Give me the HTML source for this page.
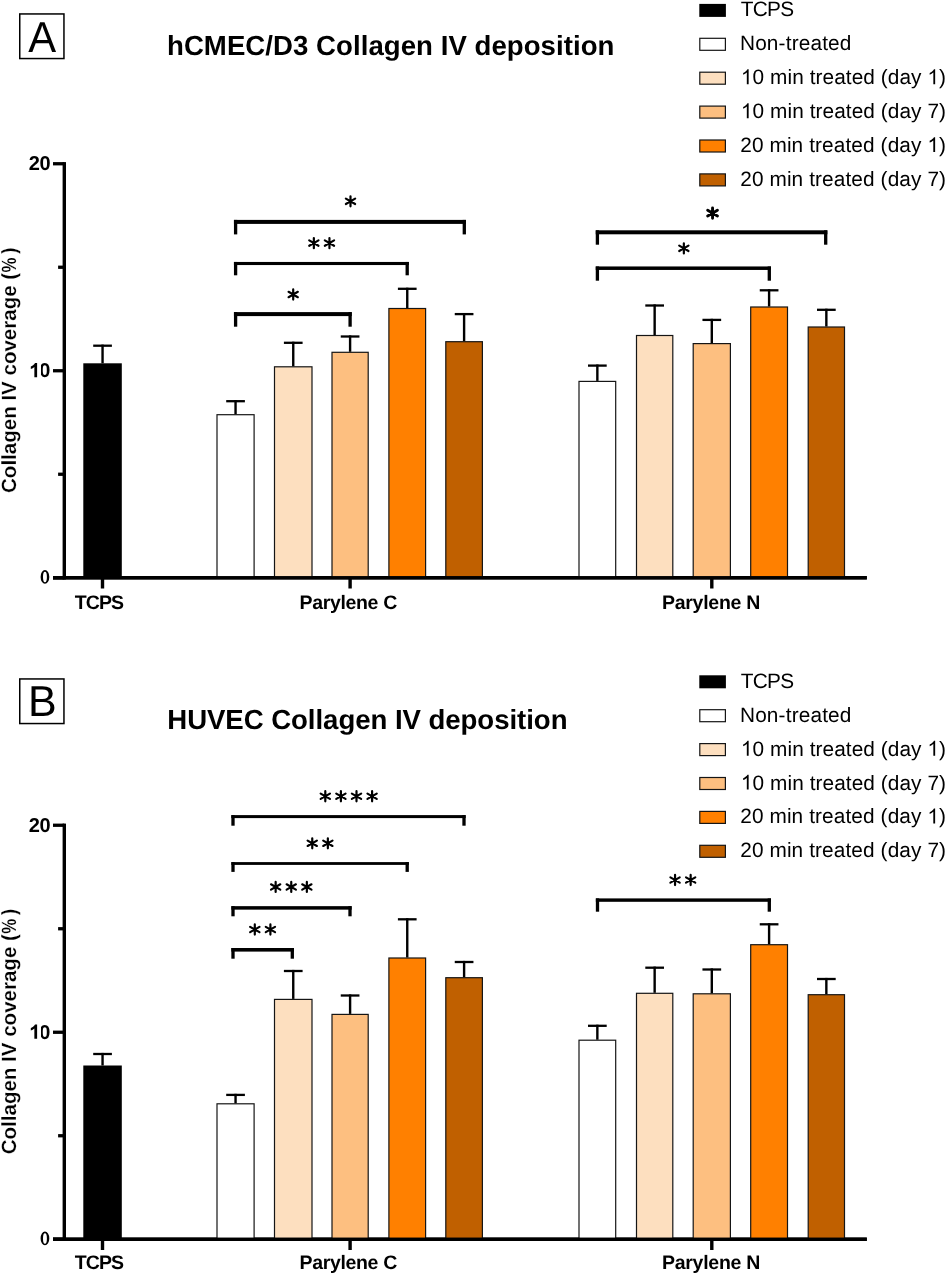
<!DOCTYPE html>
<html><head><meta charset="utf-8"><style>
html,body{margin:0;padding:0;background:#fff;}
svg{display:block;font-family:"Liberation Sans",sans-serif;will-change:transform;text-rendering:geometricPrecision;}
</style></head><body>
<svg width="947" height="1276" viewBox="0 0 947 1276">
<rect width="947" height="1276" fill="#fff"/>
<rect x="19.75" y="13.95" width="44.2" height="44.60" fill="none" stroke="#000" stroke-width="1.5"/>
<text transform="translate(28.16,51.70) scale(0.9735,1.0102)" x="0" y="0" font-family="Liberation Sans" font-weight="normal" font-size="43" text-rendering="geometricPrecision">A</text>
<text x="167.00" y="55.10" font-family="Liberation Sans" font-weight="bold" font-size="27.6" textLength="447.42" lengthAdjust="spacing" >hCMEC/D3 Collagen IV deposition</text>
<rect x="699.30" y="3.90" width="26.60" height="13.00" fill="#000" />
<text x="740.70" y="16.45" font-family="Liberation Sans" font-weight="normal" font-size="20.8" textLength="53.37" lengthAdjust="spacing" >TCPS</text>
<rect x="699.80" y="38.30" width="25.60" height="12.00" fill="#FFFFFF" stroke="#151515" stroke-width="1.2"/>
<text x="739.95" y="50.35" font-family="Liberation Sans" font-weight="normal" font-size="20.8" textLength="111.48" lengthAdjust="spacing" >Non-treated</text>
<rect x="699.80" y="72.20" width="25.60" height="12.00" fill="#FDDFBF" stroke="#151515" stroke-width="1.2"/>
<text x="740.90" y="84.25" font-family="Liberation Sans" font-weight="normal" font-size="20.8" textLength="205.10" lengthAdjust="spacing" class="has1">10 min treated (day 1)</text>
<rect x="699.80" y="106.10" width="25.60" height="12.00" fill="#FDBF80" stroke="#151515" stroke-width="1.2"/>
<text x="740.90" y="118.15" font-family="Liberation Sans" font-weight="normal" font-size="20.8" textLength="205.10" lengthAdjust="spacing" class="has1">10 min treated (day 7)</text>
<rect x="699.80" y="140.00" width="25.60" height="12.00" fill="#FF8000" stroke="#151515" stroke-width="1.2"/>
<text x="740.20" y="152.05" font-family="Liberation Sans" font-weight="normal" font-size="20.8" textLength="205.80" lengthAdjust="spacing" class="has1">20 min treated (day 1)</text>
<rect x="699.80" y="173.90" width="25.60" height="12.00" fill="#C06000" stroke="#151515" stroke-width="1.2"/>
<text x="740.20" y="185.95" font-family="Liberation Sans" font-weight="normal" font-size="20.8" textLength="205.80" lengthAdjust="spacing" >20 min treated (day 7)</text>
<rect x="62.60" y="162.10" width="3.40" height="417.35" fill="#000" />
<rect x="53.00" y="576.10" width="11.30" height="3.30" fill="#000" />
<rect x="53.00" y="369.10" width="11.30" height="3.30" fill="#000" />
<rect x="53.00" y="162.10" width="11.30" height="3.30" fill="#000" />
<rect x="58.10" y="472.60" width="6.20" height="3.30" fill="#000" />
<rect x="58.10" y="265.60" width="6.20" height="3.30" fill="#000" />
<rect x="53.00" y="576.05" width="813.80" height="3.40" fill="#000" />
<rect x="100.80" y="577.75" width="3.40" height="10.75" fill="#000" />
<rect x="348.40" y="577.75" width="3.40" height="10.75" fill="#000" />
<rect x="710.10" y="577.75" width="3.40" height="10.75" fill="#000" />
<text x="28.85" y="170.10" font-family="Liberation Sans" font-weight="bold" font-size="20" textLength="21.70" lengthAdjust="spacing" >20</text>
<text x="29.15" y="377.30" font-family="Liberation Sans" font-weight="bold" font-size="20" textLength="21.30" lengthAdjust="spacing" class="has1">10</text>
<path d="M40.60,576.95a4.35,6.85 0 1,0 8.70,0a4.35,6.85 0 1,0 -8.70,0ZM43.00,576.95a1.95,5.3 0 1,0 3.90,0a1.95,5.3 0 1,0 -3.90,0Z" fill="#000" fill-rule="evenodd"/>
<text x="74.65" y="608.60" font-family="Liberation Sans" font-weight="bold" font-size="19.5" textLength="49.42" lengthAdjust="spacing" >TCPS</text>
<text x="299.55" y="608.60" font-family="Liberation Sans" font-weight="bold" font-size="19.5" textLength="97.71" lengthAdjust="spacing" >Parylene C</text>
<text x="661.95" y="608.60" font-family="Liberation Sans" font-weight="bold" font-size="19.5" textLength="98.46" lengthAdjust="spacing" >Parylene N</text>
<text transform="translate(16.35,492.20) rotate(-90)" x="-0.75" y="0" font-family="Liberation Sans" font-weight="bold" font-size="20.6" textLength="220.09" lengthAdjust="spacingAndGlyphs" stroke="#fff" stroke-width="0.2">Collagen IV coverage (</text>
<text transform="translate(16.35,492.20) rotate(-90) translate(219.69,0) scale(0.8174,1)" x="0" y="0" font-family="Liberation Sans" font-weight="bold" font-size="20.6" stroke="#fff" stroke-width="0.2">%</text>
<text transform="translate(16.35,492.20) rotate(-90) translate(238.55,0) scale(0.8957,1)" x="0" y="0" font-family="Liberation Sans" font-weight="bold" font-size="20.6" stroke="#fff" stroke-width="0.2">)</text>
<rect x="83.30" y="363.30" width="38.50" height="214.45" fill="#000" />
<line x1="102.55" y1="363.30" x2="102.55" y2="344.60" stroke="#000" stroke-width="2.4" stroke-linecap="butt"/>
<line x1="93.20" y1="345.70" x2="111.90" y2="345.70" stroke="#000" stroke-width="2.3" stroke-linecap="butt"/>
<rect x="217.00" y="414.70" width="37.10" height="163.05" fill="#FFFFFF" stroke="#151515" stroke-width="1.2"/>
<line x1="235.55" y1="414.20" x2="235.55" y2="400.10" stroke="#000" stroke-width="2.4" stroke-linecap="butt"/>
<line x1="226.20" y1="401.20" x2="244.90" y2="401.20" stroke="#000" stroke-width="2.3" stroke-linecap="butt"/>
<rect x="274.50" y="366.80" width="37.50" height="210.95" fill="#FDDFBF" stroke="#151515" stroke-width="1.2"/>
<line x1="293.25" y1="366.30" x2="293.25" y2="341.70" stroke="#000" stroke-width="2.4" stroke-linecap="butt"/>
<line x1="283.90" y1="342.80" x2="302.60" y2="342.80" stroke="#000" stroke-width="2.3" stroke-linecap="butt"/>
<rect x="332.00" y="352.30" width="36.20" height="225.45" fill="#FDBF80" stroke="#151515" stroke-width="1.2"/>
<line x1="350.10" y1="351.80" x2="350.10" y2="335.40" stroke="#000" stroke-width="2.4" stroke-linecap="butt"/>
<line x1="340.75" y1="336.50" x2="359.45" y2="336.50" stroke="#000" stroke-width="2.3" stroke-linecap="butt"/>
<rect x="388.90" y="308.50" width="36.70" height="269.25" fill="#FF8000" stroke="#151515" stroke-width="1.2"/>
<line x1="407.25" y1="308.00" x2="407.25" y2="287.70" stroke="#000" stroke-width="2.4" stroke-linecap="butt"/>
<line x1="397.90" y1="288.80" x2="416.60" y2="288.80" stroke="#000" stroke-width="2.3" stroke-linecap="butt"/>
<rect x="445.80" y="341.70" width="36.60" height="236.05" fill="#C06000" stroke="#151515" stroke-width="1.2"/>
<line x1="464.10" y1="341.20" x2="464.10" y2="313.00" stroke="#000" stroke-width="2.4" stroke-linecap="butt"/>
<line x1="454.75" y1="314.10" x2="473.45" y2="314.10" stroke="#000" stroke-width="2.3" stroke-linecap="butt"/>
<rect x="579.00" y="381.40" width="36.70" height="196.35" fill="#FFFFFF" stroke="#151515" stroke-width="1.2"/>
<line x1="597.35" y1="380.90" x2="597.35" y2="364.50" stroke="#000" stroke-width="2.4" stroke-linecap="butt"/>
<line x1="588.00" y1="365.60" x2="606.70" y2="365.60" stroke="#000" stroke-width="2.3" stroke-linecap="butt"/>
<rect x="636.50" y="335.50" width="36.30" height="242.25" fill="#FDDFBF" stroke="#151515" stroke-width="1.2"/>
<line x1="654.65" y1="335.00" x2="654.65" y2="304.40" stroke="#000" stroke-width="2.4" stroke-linecap="butt"/>
<line x1="645.30" y1="305.50" x2="664.00" y2="305.50" stroke="#000" stroke-width="2.3" stroke-linecap="butt"/>
<rect x="693.20" y="343.60" width="37.20" height="234.15" fill="#FDBF80" stroke="#151515" stroke-width="1.2"/>
<line x1="711.80" y1="343.10" x2="711.80" y2="318.80" stroke="#000" stroke-width="2.4" stroke-linecap="butt"/>
<line x1="702.45" y1="319.90" x2="721.15" y2="319.90" stroke="#000" stroke-width="2.3" stroke-linecap="butt"/>
<rect x="750.70" y="307.00" width="36.80" height="270.75" fill="#FF8000" stroke="#151515" stroke-width="1.2"/>
<line x1="769.10" y1="306.50" x2="769.10" y2="289.20" stroke="#000" stroke-width="2.4" stroke-linecap="butt"/>
<line x1="759.75" y1="290.30" x2="778.45" y2="290.30" stroke="#000" stroke-width="2.3" stroke-linecap="butt"/>
<rect x="808.20" y="327.00" width="36.30" height="250.75" fill="#C06000" stroke="#151515" stroke-width="1.2"/>
<line x1="826.35" y1="326.50" x2="826.35" y2="308.70" stroke="#000" stroke-width="2.4" stroke-linecap="butt"/>
<line x1="817.00" y1="309.80" x2="835.70" y2="309.80" stroke="#000" stroke-width="2.3" stroke-linecap="butt"/>
<rect x="53.00" y="576.05" width="813.80" height="3.40" fill="#000" />
<rect x="233.95" y="219.90" width="232.00" height="4.00" fill="#000" />
<rect x="233.95" y="219.90" width="3.30" height="14.50" fill="#000" />
<rect x="462.65" y="219.90" width="3.30" height="14.50" fill="#000" />
<path d="M350.50,196.25V206.35M345.87,198.62L355.13,203.98M345.87,203.98L355.13,198.62" stroke="#000" stroke-width="2.2" stroke-linecap="round" fill="none"/>
<circle cx="350.50" cy="201.30" r="1.9" fill="#000"/>
<rect x="233.95" y="261.95" width="174.90" height="3.10" fill="#000" />
<rect x="233.95" y="261.95" width="3.30" height="13.35" fill="#000" />
<rect x="405.55" y="261.95" width="3.30" height="13.35" fill="#000" />
<path d="M313.85,238.05V248.15M309.22,240.42L318.48,245.78M309.22,245.78L318.48,240.42" stroke="#000" stroke-width="2.2" stroke-linecap="round" fill="none"/>
<circle cx="313.85" cy="243.10" r="1.9" fill="#000"/>
<path d="M329.45,238.05V248.15M324.82,240.42L334.08,245.78M324.82,245.78L334.08,240.42" stroke="#000" stroke-width="2.2" stroke-linecap="round" fill="none"/>
<circle cx="329.45" cy="243.10" r="1.9" fill="#000"/>
<rect x="233.95" y="312.10" width="117.80" height="4.00" fill="#000" />
<rect x="233.95" y="312.10" width="3.30" height="14.60" fill="#000" />
<rect x="348.45" y="312.10" width="3.30" height="14.60" fill="#000" />
<path d="M293.20,289.45V299.55M288.57,291.82L297.83,297.18M288.57,297.18L297.83,291.82" stroke="#000" stroke-width="2.2" stroke-linecap="round" fill="none"/>
<circle cx="293.20" cy="294.50" r="1.9" fill="#000"/>
<rect x="595.75" y="230.30" width="231.60" height="4.00" fill="#000" />
<rect x="595.75" y="230.30" width="3.30" height="14.40" fill="#000" />
<rect x="824.05" y="230.30" width="3.30" height="14.40" fill="#000" />
<path d="M712.55,208.05V218.25M707.66,210.33L717.44,215.97M707.66,215.97L717.44,210.33" stroke="#000" stroke-width="2.9" stroke-linecap="round" fill="none"/>
<circle cx="712.55" cy="213.15" r="2.4" fill="#000"/>
<rect x="595.75" y="266.45" width="175.20" height="3.50" fill="#000" />
<rect x="595.75" y="266.45" width="3.30" height="14.25" fill="#000" />
<rect x="767.65" y="266.45" width="3.30" height="14.25" fill="#000" />
<path d="M683.85,243.30V253.40M679.22,245.67L688.48,251.03M679.22,251.03L688.48,245.67" stroke="#000" stroke-width="2.2" stroke-linecap="round" fill="none"/>
<circle cx="683.85" cy="248.35" r="1.9" fill="#000"/>
<rect x="19.75" y="678.95" width="44.2" height="44.60" fill="none" stroke="#000" stroke-width="1.5"/>
<text transform="translate(27.90,716.00) scale(1.0000,1.0034)" x="0" y="0" font-family="Liberation Sans" font-weight="normal" font-size="43" text-rendering="geometricPrecision">B</text>
<text x="167.25" y="729.30" font-family="Liberation Sans" font-weight="bold" font-size="27.6" textLength="400.24" lengthAdjust="spacing" >HUVEC Collagen IV deposition</text>
<rect x="699.30" y="675.30" width="26.60" height="13.00" fill="#000" />
<text x="740.70" y="687.85" font-family="Liberation Sans" font-weight="normal" font-size="20.8" textLength="53.37" lengthAdjust="spacing" >TCPS</text>
<rect x="699.80" y="709.70" width="25.60" height="12.00" fill="#FFFFFF" stroke="#151515" stroke-width="1.2"/>
<text x="739.95" y="721.75" font-family="Liberation Sans" font-weight="normal" font-size="20.8" textLength="111.48" lengthAdjust="spacing" >Non-treated</text>
<rect x="699.80" y="743.60" width="25.60" height="12.00" fill="#FDDFBF" stroke="#151515" stroke-width="1.2"/>
<text x="740.90" y="755.65" font-family="Liberation Sans" font-weight="normal" font-size="20.8" textLength="205.10" lengthAdjust="spacing" class="has1">10 min treated (day 1)</text>
<rect x="699.80" y="777.50" width="25.60" height="12.00" fill="#FDBF80" stroke="#151515" stroke-width="1.2"/>
<text x="740.90" y="789.55" font-family="Liberation Sans" font-weight="normal" font-size="20.8" textLength="205.10" lengthAdjust="spacing" class="has1">10 min treated (day 7)</text>
<rect x="699.80" y="811.40" width="25.60" height="12.00" fill="#FF8000" stroke="#151515" stroke-width="1.2"/>
<text x="740.20" y="823.45" font-family="Liberation Sans" font-weight="normal" font-size="20.8" textLength="205.80" lengthAdjust="spacing" class="has1">20 min treated (day 1)</text>
<rect x="699.80" y="845.30" width="25.60" height="12.00" fill="#C06000" stroke="#151515" stroke-width="1.2"/>
<text x="740.20" y="857.35" font-family="Liberation Sans" font-weight="normal" font-size="20.8" textLength="205.80" lengthAdjust="spacing" >20 min treated (day 7)</text>
<rect x="62.60" y="823.60" width="3.40" height="417.35" fill="#000" />
<rect x="53.00" y="1237.60" width="11.30" height="3.30" fill="#000" />
<rect x="53.00" y="1030.60" width="11.30" height="3.30" fill="#000" />
<rect x="53.00" y="823.60" width="11.30" height="3.30" fill="#000" />
<rect x="58.10" y="1134.10" width="6.20" height="3.30" fill="#000" />
<rect x="58.10" y="927.10" width="6.20" height="3.30" fill="#000" />
<rect x="53.00" y="1237.55" width="813.80" height="3.40" fill="#000" />
<rect x="100.80" y="1239.25" width="3.40" height="10.75" fill="#000" />
<rect x="348.40" y="1239.25" width="3.40" height="10.75" fill="#000" />
<rect x="710.10" y="1239.25" width="3.40" height="10.75" fill="#000" />
<text x="28.85" y="831.60" font-family="Liberation Sans" font-weight="bold" font-size="20" textLength="21.70" lengthAdjust="spacing" >20</text>
<text x="29.15" y="1038.80" font-family="Liberation Sans" font-weight="bold" font-size="20" textLength="21.30" lengthAdjust="spacing" class="has1">10</text>
<path d="M40.60,1238.45a4.35,6.85 0 1,0 8.70,0a4.35,6.85 0 1,0 -8.70,0ZM43.00,1238.45a1.95,5.3 0 1,0 3.90,0a1.95,5.3 0 1,0 -3.90,0Z" fill="#000" fill-rule="evenodd"/>
<text x="74.65" y="1269.30" font-family="Liberation Sans" font-weight="bold" font-size="19.5" textLength="49.42" lengthAdjust="spacing" >TCPS</text>
<text x="299.55" y="1269.30" font-family="Liberation Sans" font-weight="bold" font-size="19.5" textLength="97.71" lengthAdjust="spacing" >Parylene C</text>
<text x="661.95" y="1269.30" font-family="Liberation Sans" font-weight="bold" font-size="19.5" textLength="98.46" lengthAdjust="spacing" >Parylene N</text>
<text transform="translate(16.35,1153.50) rotate(-90)" x="-0.75" y="0" font-family="Liberation Sans" font-weight="bold" font-size="20.6" textLength="220.09" lengthAdjust="spacingAndGlyphs" stroke="#fff" stroke-width="0.2">Collagen IV coverage (</text>
<text transform="translate(16.35,1153.50) rotate(-90) translate(219.69,0) scale(0.8174,1)" x="0" y="0" font-family="Liberation Sans" font-weight="bold" font-size="20.6" stroke="#fff" stroke-width="0.2">%</text>
<text transform="translate(16.35,1153.50) rotate(-90) translate(238.55,0) scale(0.8957,1)" x="0" y="0" font-family="Liberation Sans" font-weight="bold" font-size="20.6" stroke="#fff" stroke-width="0.2">)</text>
<rect x="83.30" y="1065.50" width="38.50" height="173.75" fill="#000" />
<line x1="102.55" y1="1065.50" x2="102.55" y2="1052.90" stroke="#000" stroke-width="2.4" stroke-linecap="butt"/>
<line x1="93.20" y1="1054.00" x2="111.90" y2="1054.00" stroke="#000" stroke-width="2.3" stroke-linecap="butt"/>
<rect x="217.00" y="1103.80" width="37.10" height="135.45" fill="#FFFFFF" stroke="#151515" stroke-width="1.2"/>
<line x1="235.55" y1="1103.30" x2="235.55" y2="1093.80" stroke="#000" stroke-width="2.4" stroke-linecap="butt"/>
<line x1="226.20" y1="1094.90" x2="244.90" y2="1094.90" stroke="#000" stroke-width="2.3" stroke-linecap="butt"/>
<rect x="274.50" y="999.40" width="37.50" height="239.85" fill="#FDDFBF" stroke="#151515" stroke-width="1.2"/>
<line x1="293.25" y1="998.90" x2="293.25" y2="969.90" stroke="#000" stroke-width="2.4" stroke-linecap="butt"/>
<line x1="283.90" y1="971.00" x2="302.60" y2="971.00" stroke="#000" stroke-width="2.3" stroke-linecap="butt"/>
<rect x="332.00" y="1014.40" width="36.20" height="224.85" fill="#FDBF80" stroke="#151515" stroke-width="1.2"/>
<line x1="350.10" y1="1013.90" x2="350.10" y2="994.40" stroke="#000" stroke-width="2.4" stroke-linecap="butt"/>
<line x1="340.75" y1="995.50" x2="359.45" y2="995.50" stroke="#000" stroke-width="2.3" stroke-linecap="butt"/>
<rect x="388.90" y="958.00" width="36.70" height="281.25" fill="#FF8000" stroke="#151515" stroke-width="1.2"/>
<line x1="407.25" y1="957.50" x2="407.25" y2="918.20" stroke="#000" stroke-width="2.4" stroke-linecap="butt"/>
<line x1="397.90" y1="919.30" x2="416.60" y2="919.30" stroke="#000" stroke-width="2.3" stroke-linecap="butt"/>
<rect x="445.80" y="977.70" width="36.60" height="261.55" fill="#C06000" stroke="#151515" stroke-width="1.2"/>
<line x1="464.10" y1="977.20" x2="464.10" y2="960.90" stroke="#000" stroke-width="2.4" stroke-linecap="butt"/>
<line x1="454.75" y1="962.00" x2="473.45" y2="962.00" stroke="#000" stroke-width="2.3" stroke-linecap="butt"/>
<rect x="579.00" y="1040.20" width="36.70" height="199.05" fill="#FFFFFF" stroke="#151515" stroke-width="1.2"/>
<line x1="597.35" y1="1039.70" x2="597.35" y2="1024.70" stroke="#000" stroke-width="2.4" stroke-linecap="butt"/>
<line x1="588.00" y1="1025.80" x2="606.70" y2="1025.80" stroke="#000" stroke-width="2.3" stroke-linecap="butt"/>
<rect x="636.50" y="993.30" width="36.30" height="245.95" fill="#FDDFBF" stroke="#151515" stroke-width="1.2"/>
<line x1="654.65" y1="992.80" x2="654.65" y2="966.60" stroke="#000" stroke-width="2.4" stroke-linecap="butt"/>
<line x1="645.30" y1="967.70" x2="664.00" y2="967.70" stroke="#000" stroke-width="2.3" stroke-linecap="butt"/>
<rect x="693.20" y="993.80" width="37.20" height="245.45" fill="#FDBF80" stroke="#151515" stroke-width="1.2"/>
<line x1="711.80" y1="993.30" x2="711.80" y2="968.40" stroke="#000" stroke-width="2.4" stroke-linecap="butt"/>
<line x1="702.45" y1="969.50" x2="721.15" y2="969.50" stroke="#000" stroke-width="2.3" stroke-linecap="butt"/>
<rect x="750.70" y="944.70" width="36.80" height="294.55" fill="#FF8000" stroke="#151515" stroke-width="1.2"/>
<line x1="769.10" y1="944.20" x2="769.10" y2="923.20" stroke="#000" stroke-width="2.4" stroke-linecap="butt"/>
<line x1="759.75" y1="924.30" x2="778.45" y2="924.30" stroke="#000" stroke-width="2.3" stroke-linecap="butt"/>
<rect x="808.20" y="994.70" width="36.30" height="244.55" fill="#C06000" stroke="#151515" stroke-width="1.2"/>
<line x1="826.35" y1="994.20" x2="826.35" y2="977.90" stroke="#000" stroke-width="2.4" stroke-linecap="butt"/>
<line x1="817.00" y1="979.00" x2="835.70" y2="979.00" stroke="#000" stroke-width="2.3" stroke-linecap="butt"/>
<rect x="53.00" y="1237.55" width="813.80" height="3.40" fill="#000" />
<rect x="231.35" y="815.10" width="234.30" height="3.00" fill="#000" />
<rect x="231.35" y="815.10" width="3.30" height="10.60" fill="#000" />
<rect x="462.35" y="815.10" width="3.30" height="10.60" fill="#000" />
<path d="M325.30,791.20V801.30M320.67,793.58L329.93,798.92M320.67,798.92L329.93,793.58" stroke="#000" stroke-width="2.2" stroke-linecap="round" fill="none"/>
<circle cx="325.30" cy="796.25" r="1.9" fill="#000"/>
<path d="M340.90,791.20V801.30M336.27,793.58L345.53,798.92M336.27,798.92L345.53,793.58" stroke="#000" stroke-width="2.2" stroke-linecap="round" fill="none"/>
<circle cx="340.90" cy="796.25" r="1.9" fill="#000"/>
<path d="M356.50,791.20V801.30M351.87,793.58L361.13,798.92M351.87,798.92L361.13,793.58" stroke="#000" stroke-width="2.2" stroke-linecap="round" fill="none"/>
<circle cx="356.50" cy="796.25" r="1.9" fill="#000"/>
<path d="M372.10,791.20V801.30M367.47,793.58L376.73,798.92M367.47,798.92L376.73,793.58" stroke="#000" stroke-width="2.2" stroke-linecap="round" fill="none"/>
<circle cx="372.10" cy="796.25" r="1.9" fill="#000"/>
<rect x="231.35" y="862.10" width="177.50" height="2.80" fill="#000" />
<rect x="231.35" y="862.10" width="3.30" height="9.80" fill="#000" />
<rect x="405.55" y="862.10" width="3.30" height="9.80" fill="#000" />
<path d="M312.25,838.25V848.35M307.62,840.62L316.88,845.97M307.62,845.97L316.88,840.62" stroke="#000" stroke-width="2.2" stroke-linecap="round" fill="none"/>
<circle cx="312.25" cy="843.30" r="1.9" fill="#000"/>
<path d="M327.85,838.25V848.35M323.22,840.62L332.48,845.97M323.22,845.97L332.48,840.62" stroke="#000" stroke-width="2.2" stroke-linecap="round" fill="none"/>
<circle cx="327.85" cy="843.30" r="1.9" fill="#000"/>
<rect x="231.35" y="906.15" width="120.30" height="3.50" fill="#000" />
<rect x="231.35" y="906.15" width="3.30" height="10.15" fill="#000" />
<rect x="348.35" y="906.15" width="3.30" height="10.15" fill="#000" />
<path d="M275.65,881.90V892.00M271.02,884.28L280.28,889.62M271.02,889.62L280.28,884.28" stroke="#000" stroke-width="2.2" stroke-linecap="round" fill="none"/>
<circle cx="275.65" cy="886.95" r="1.9" fill="#000"/>
<path d="M291.25,881.90V892.00M286.62,884.28L295.88,889.62M286.62,889.62L295.88,884.28" stroke="#000" stroke-width="2.2" stroke-linecap="round" fill="none"/>
<circle cx="291.25" cy="886.95" r="1.9" fill="#000"/>
<path d="M306.85,881.90V892.00M302.22,884.28L311.48,889.62M302.22,889.62L311.48,884.28" stroke="#000" stroke-width="2.2" stroke-linecap="round" fill="none"/>
<circle cx="306.85" cy="886.95" r="1.9" fill="#000"/>
<rect x="231.35" y="948.00" width="62.60" height="3.60" fill="#000" />
<rect x="231.35" y="948.00" width="3.30" height="10.70" fill="#000" />
<rect x="290.65" y="948.00" width="3.30" height="10.70" fill="#000" />
<path d="M254.80,924.45V934.55M250.17,926.83L259.43,932.17M250.17,932.17L259.43,926.83" stroke="#000" stroke-width="2.2" stroke-linecap="round" fill="none"/>
<circle cx="254.80" cy="929.50" r="1.9" fill="#000"/>
<path d="M270.40,924.45V934.55M265.77,926.83L275.03,932.17M265.77,932.17L275.03,926.83" stroke="#000" stroke-width="2.2" stroke-linecap="round" fill="none"/>
<circle cx="270.40" cy="929.50" r="1.9" fill="#000"/>
<rect x="595.85" y="898.40" width="175.10" height="3.40" fill="#000" />
<rect x="595.85" y="898.40" width="3.30" height="13.30" fill="#000" />
<rect x="767.65" y="898.40" width="3.30" height="13.30" fill="#000" />
<path d="M675.05,874.95V885.05M670.42,877.33L679.68,882.67M670.42,882.67L679.68,877.33" stroke="#000" stroke-width="2.2" stroke-linecap="round" fill="none"/>
<circle cx="675.05" cy="880.00" r="1.9" fill="#000"/>
<path d="M690.65,874.95V885.05M686.02,877.33L695.28,882.67M686.02,882.67L695.28,877.33" stroke="#000" stroke-width="2.2" stroke-linecap="round" fill="none"/>
<circle cx="690.65" cy="880.00" r="1.9" fill="#000"/>
<rect x="742" y="69" width="10" height="16" fill="#fff"/>
<path d="M748.65,84.25L746.82,84.25L746.82,72.60Q746.16,73.23 745.15,73.83Q744.07,74.46 743.16,74.79L743.16,73.03Q744.70,72.31 745.84,71.27Q746.98,70.25 747.47,69.36L748.65,69.36Z" fill="#000"/>
<rect x="928" y="69" width="11" height="16" fill="#fff"/>
<path d="M935.16,84.25L933.34,84.25L933.34,72.60Q932.68,73.23 931.66,73.83Q930.58,74.46 929.68,74.79L929.68,73.03Q931.21,72.31 932.35,71.27Q933.50,70.25 933.99,69.36L935.16,69.36Z" fill="#000"/>
<rect x="742" y="103" width="10" height="16" fill="#fff"/>
<path d="M748.65,118.15L746.82,118.15L746.82,106.50Q746.16,107.13 745.15,107.73Q744.07,108.36 743.16,108.69L743.16,106.93Q744.70,106.21 745.84,105.17Q746.98,104.15 747.47,103.26L748.65,103.26Z" fill="#000"/>
<rect x="928" y="137" width="11" height="16" fill="#fff"/>
<path d="M935.13,152.05L933.30,152.05L933.30,140.40Q932.64,141.03 931.63,141.63Q930.55,142.26 929.65,142.59L929.65,140.83Q931.18,140.11 932.32,139.07Q933.47,138.05 933.95,137.16L935.13,137.16Z" fill="#000"/>
<rect x="30" y="362" width="11" height="16" fill="#fff"/>
<path d="M37.11,377.30L34.36,377.30L34.36,366.96Q32.86,368.36 30.81,369.04L30.81,366.55Q31.89,366.20 33.07,365.29Q34.25,364.39 35.03,362.98L37.11,362.98Z" fill="#000"/>
<rect x="742" y="740" width="10" height="17" fill="#fff"/>
<path d="M748.65,755.65L746.82,755.65L746.82,744.00Q746.16,744.63 745.15,745.23Q744.07,745.86 743.16,746.19L743.16,744.43Q744.70,743.71 745.84,742.67Q746.98,741.65 747.47,740.76L748.65,740.76Z" fill="#000"/>
<rect x="928" y="740" width="11" height="17" fill="#fff"/>
<path d="M935.16,755.65L933.34,755.65L933.34,744.00Q932.68,744.63 931.66,745.23Q930.58,745.86 929.68,746.19L929.68,744.43Q931.21,743.71 932.35,742.67Q933.50,741.65 933.99,740.76L935.16,740.76Z" fill="#000"/>
<rect x="742" y="774" width="10" height="17" fill="#fff"/>
<path d="M748.65,789.55L746.82,789.55L746.82,777.90Q746.16,778.53 745.15,779.13Q744.07,779.76 743.16,780.09L743.16,778.33Q744.70,777.61 745.84,776.57Q746.98,775.55 747.47,774.66L748.65,774.66Z" fill="#000"/>
<rect x="928" y="808" width="11" height="16" fill="#fff"/>
<path d="M935.13,823.45L933.30,823.45L933.30,811.80Q932.64,812.43 931.63,813.03Q930.55,813.66 929.65,813.99L929.65,812.23Q931.18,811.51 932.32,810.47Q933.47,809.45 933.95,808.56L935.13,808.56Z" fill="#000"/>
<rect x="30" y="1024" width="11" height="16" fill="#fff"/>
<path d="M37.11,1038.80L34.36,1038.80L34.36,1028.46Q32.86,1029.86 30.81,1030.54L30.81,1028.05Q31.89,1027.70 33.07,1026.79Q34.25,1025.89 35.03,1024.48L37.11,1024.48Z" fill="#000"/>
</svg>
</body></html>
